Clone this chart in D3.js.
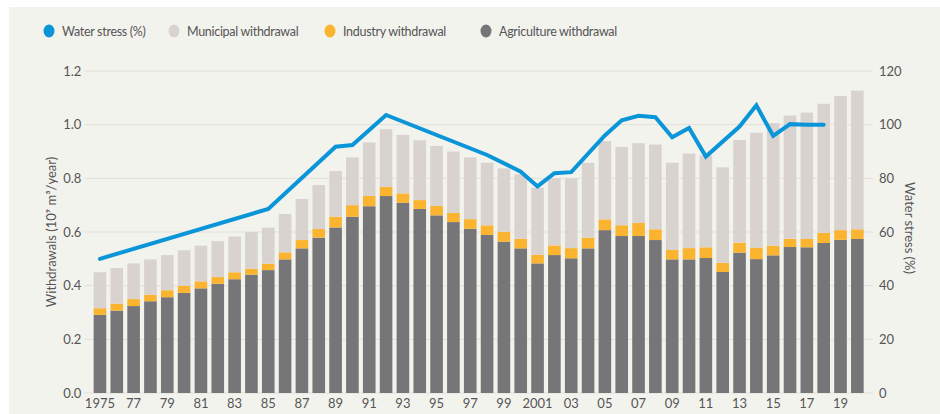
<!DOCTYPE html>
<html><head><meta charset="utf-8">
<script src="https://cdn.jsdelivr.net/npm/d3@7"></script>
<style>
html,body{margin:0;padding:0;background:#fff;}
svg{display:block;}
text{font-family:Lato, "Open Sans", sans-serif;}
</style></head>
<body>
<svg id="chart" width="940" height="414"></svg>
<script>
const years = [1975,1976,1977,1978,1979,1980,1981,1982,1983,1984,1985,1986,1987,1988,1989,1990,1991,1992,1993,1994,1995,1996,1997,1998,1999,2000,2001,2002,2003,2004,2005,2006,2007,2008,2009,2010,2011,2012,2013,2014,2015,2016,2017,2018,2019,2020];
const agriculture = [0.291,0.307,0.324,0.342,0.357,0.373,0.390,0.407,0.424,0.441,0.458,0.498,0.539,0.579,0.617,0.657,0.696,0.734,0.709,0.686,0.662,0.637,0.612,0.589,0.564,0.539,0.483,0.514,0.502,0.539,0.607,0.585,0.585,0.570,0.498,0.498,0.503,0.451,0.523,0.499,0.513,0.544,0.543,0.559,0.571,0.574];
const industry = [0.025,0.026,0.026,0.024,0.026,0.027,0.026,0.025,0.026,0.022,0.024,0.026,0.031,0.032,0.040,0.043,0.039,0.034,0.035,0.033,0.035,0.034,0.036,0.036,0.037,0.036,0.032,0.036,0.038,0.040,0.040,0.040,0.049,0.040,0.035,0.042,0.040,0.034,0.037,0.043,0.036,0.031,0.031,0.038,0.036,0.036];
const municipal = [0.134,0.133,0.133,0.132,0.131,0.132,0.133,0.134,0.133,0.137,0.134,0.143,0.153,0.164,0.170,0.178,0.199,0.215,0.218,0.223,0.224,0.229,0.230,0.233,0.236,0.241,0.250,0.250,0.260,0.279,0.292,0.292,0.297,0.316,0.325,0.352,0.342,0.356,0.383,0.428,0.457,0.459,0.471,0.481,0.500,0.517];
const stressYears = [1975,1985,1989,1990,1992,1998,2000,2001,2002,2003,2005,2006,2007,2008,2009,2010,2011,2013,2014,2015,2016,2017,2018];
const stressValues = [50,68.6,91.8,92.4,103.6,88.7,82.5,77,81.9,82.3,96,101.6,103.3,102.8,95.3,98.8,88.1,99.3,107.2,95.8,100.2,100,100];
const leftTicks = [0,0.2,0.4,0.6,0.8,1.0,1.2];
const rightTicks = [0,20,40,60,80,100,120];
const xTickLabels = ["1975","77","79","81","83","85","87","89","91","93","95","97","99","2001","03","05","07","09","11","13","15","17","19"];
const xTickYears = [1975,1977,1979,1981,1983,1985,1987,1989,1991,1993,1995,1997,1999,2001,2003,2005,2007,2009,2011,2013,2015,2017,2019];
const legendLabels = ["Water stress (%)","Municipal withdrawal","Industry withdrawal","Agriculture withdrawal"];

const colors = {agri:"#767578", ind:"#fbb430", mun:"#d9d3d0", line:"#0a95d8", bg:"#f3f3ee", grid:"#e2dfda", text:"#555555"};

const svg = d3.select("#chart");
svg.append("rect").attr("x",9).attr("y",7).attr("width",931).attr("height",407).attr("fill",colors.bg);

const plotL = 84.3, plotR = 873, plotT = 71, plotB = 393;
const x = d3.scaleBand().domain(years).range([plotL,plotR]).paddingInner(0.25).paddingOuter(0.555);
const y = d3.scaleLinear().domain([0,1.2]).range([plotB,plotT]);
const y2 = d3.scaleLinear().domain([0,120]).range([plotB,plotT]);

// gridlines
svg.append("g").selectAll("line").data(leftTicks).join("line")
  .attr("x1",plotL).attr("x2",plotR)
  .attr("y1",d=>y(d)).attr("y2",d=>y(d))
  .attr("stroke",colors.grid).attr("stroke-width",1);

// left axis labels
const yAxis = d3.axisLeft(y).tickValues(leftTicks).tickFormat(d3.format(".1f")).tickSize(0).tickPadding(3);
const gy = svg.append("g").attr("transform",`translate(${plotL},0)`).call(yAxis);
gy.select(".domain").remove();
gy.selectAll("text").attr("font-size",13).attr("fill",colors.text).attr("font-family","Lato");

const y2Axis = d3.axisRight(y2).tickValues(rightTicks).tickSize(0).tickPadding(6);
const gy2 = svg.append("g").attr("transform",`translate(${plotR},0)`).call(y2Axis);
gy2.select(".domain").remove();
gy2.selectAll("text").attr("font-size",13).attr("fill",colors.text).attr("font-family","Lato");

// x axis labels
const xAxis = d3.axisBottom(x).tickValues(xTickYears).tickFormat((d,i)=>xTickLabels[i]).tickSize(0).tickPadding(6);
const gx = svg.append("g").attr("transform",`translate(0,${plotB})`).call(xAxis);
gx.select(".domain").remove();
gx.selectAll("text").attr("font-size",13).attr("fill",colors.text).attr("font-family","Lato");

// stacked bars
const rows = years.map((yr,i)=>({year:yr, agri:agriculture[i], ind:industry[i], mun:municipal[i]}));
const stack = d3.stack().keys(["agri","ind","mun"])(rows);
const fills = {agri:colors.agri, ind:colors.ind, mun:colors.mun};
svg.append("g").selectAll("g").data(stack).join("g")
  .attr("fill",d=>fills[d.key])
  .selectAll("rect").data(d=>d).join("rect")
  .attr("x",d=>x(d.data.year))
  .attr("width",x.bandwidth())
  .attr("y",d=>y(d[1]))
  .attr("height",d=>y(d[0])-y(d[1]));

// line
const stressData = stressYears.map((yr,i)=>({year:yr, v:stressValues[i]}));
const line = d3.line().x(d=>x(d.year)+x.bandwidth()/2).y(d=>y2(d.v));
svg.append("path").datum(stressData).attr("d",line)
  .attr("fill","none").attr("stroke",colors.line).attr("stroke-width",4)
  .attr("stroke-linecap","round").attr("stroke-linejoin","miter");

// axis titles
svg.append("text").attr("transform",`translate(56,232) rotate(-90)`)
  .attr("text-anchor","middle").attr("font-size",13).attr("fill",colors.text)
  .text("Withdrawals (10⁹ m³/year)");
svg.append("text").attr("transform",`translate(905,228) rotate(90)`)
  .attr("text-anchor","middle").attr("font-size",13).attr("fill",colors.text)
  .text("Water stress (%)");

// legend
const legendX = [49,174,330,486];
const legendColors = [colors.line, colors.mun, colors.ind, colors.agri];
const lg = svg.append("g").selectAll("g").data(legendLabels).join("g")
  .attr("transform",(d,i)=>`translate(${legendX[i]},31)`);
lg.append("ellipse").attr("rx",5.5).attr("ry",6.5).attr("fill",(d,i)=>legendColors[i]);
lg.append("text").attr("x",13).attr("y",4.5).attr("font-size",12.5).attr("fill",colors.text)
  .attr("letter-spacing",-0.3).text(d=>d);
</script>
</body></html>
